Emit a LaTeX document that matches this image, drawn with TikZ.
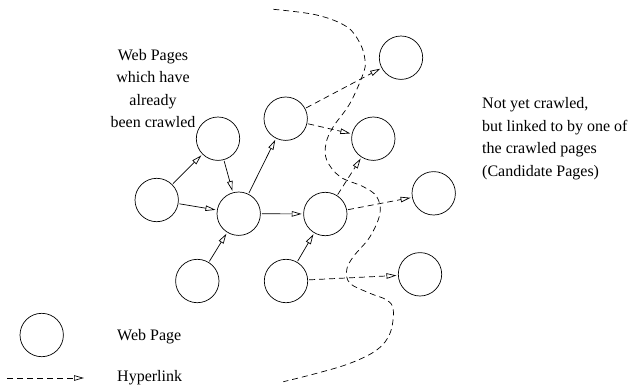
\documentclass[tikz,border=0pt]{standalone}
\usepackage{fontspec}
\setmainfont{Liberation Serif}
\usetikzlibrary{arrows.meta}
\begin{document}
\begin{tikzpicture}[x=1pt,y=-1pt,
  page/.style={circle,draw,line width=0.7pt,minimum size=43.4pt,inner sep=0pt},
  link/.style={line width=0.7pt,-{Triangle[open,length=10pt,width=5.5pt]},shorten >=1.5pt,shorten <=1pt},
  hyper/.style={link,dash pattern=on 6pt off 4pt},
  boundary/.style={line width=0.7pt,dash pattern=on 6pt off 4pt},
  label/.style={font=\fontsize{16}{22.6}\selectfont,inner sep=0pt}]
\useasboundingbox (0,0) rectangle (631,389);

% crawled pages
\node[page] (l)  at (156.7,200) {};
\node[page] (tl) at (218,138.7) {};
\node[page] (c)  at (238.7,213.7) {};
\node[page] (bl) at (197.3,281) {};
\node[page] (tm) at (285.7,118.7) {};
\node[page] (mr) at (325.3,214) {};
\node[page] (bm) at (286,281) {};

% candidate pages
\node[page] (r1) at (401,57.7) {};
\node[page] (r2) at (373.3,138.7) {};
\node[page] (r3) at (433.7,193.3) {};
\node[page] (r4) at (420,274.3) {};

% links among crawled pages
\draw[link] (l) -- (tl);
\draw[link] (l) -- (c);
\draw[link] (tl) -- (c);
\draw[link] (bl) -- (c);
\draw[link] (c) -- (tm);
\draw[link] (c) -- (mr);
\draw[link] (bm) -- (mr);

% links to candidate pages
\draw[hyper] (tm) -- (r1);
\draw[hyper] (tm) -- (r2);
\draw[hyper] (mr) -- (r2);
\draw[hyper] (mr) -- (r3);
\draw[hyper] (bm) -- (r4);

% frontier between crawled and uncrawled pages
\draw[boundary] plot[smooth,tension=0.6] coordinates {
  (273.3,9.3) (316.7,15) (346.7,26.7) (360,43.3) (365,60) (363.3,73.3)
  (350,103.3) (333.3,126.7) (326,143.3) (326.7,160) (340,176.7)
  (363.3,186.7) (376.7,196.7) (380,213.3) (370,236.7) (353.3,256.7)
  (346.7,270) (350,283.3) (370,293.3) (386.7,300) (393.3,310)
  (390,333.3) (376.7,350) (350,363.3) (316.7,373.3) (283.3,381.7)};

% annotations
\node[label,align=center] (crawled) at (153,88.5)
  {Web Pages\\which have\\already\\been crawled};
\node[label,align=left,anchor=west] (cand) at (482,138.5)
  {Not yet crawled,\\but linked to by one of\\the crawled pages\\(Candidate Pages)};

% legend
\node[page] (lp) at (41.7,335) {};
\node[label,anchor=west] (lpt) at (117,337) {Web Page};
\coordinate (ha) at (7,378);
\coordinate (hb) at (84,378);
\draw[hyper,shorten >=0pt,shorten <=0pt] (ha) -- (hb);
\node[label,anchor=west] (lht) at (117,378) {Hyperlink};
\end{tikzpicture}
\end{document}
